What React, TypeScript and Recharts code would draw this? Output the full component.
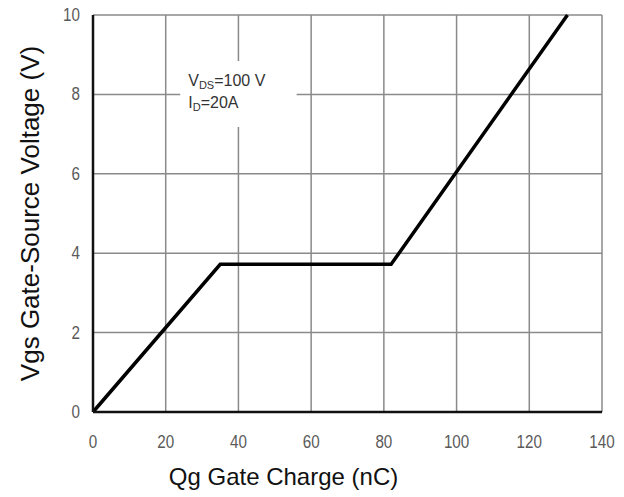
import { FC } from "react";
import {
  LineChart,
  Line,
  XAxis,
  YAxis,
  CartesianGrid,
  ReferenceArea,
} from "recharts";

// gate charge curve
const charge = [0, 35, 82, 130.5]; // nC
const vgs = [0, 3.72, 3.72, 10]; // V

const xTicks = [0, 20, 40, 60, 80, 100, 120, 140];
const yTicks = [0, 2, 4, 6, 8, 10];

// test conditions box
const noteBox = { x1: 24, x2: 56, y1: 7.18, y2: 8.84 };

const data = charge.map((q, i) => ({ q, v: vgs[i] }));

const sans = "'Liberation Sans', Arial, sans-serif";

// the datasheet uses a condensed face for tick numbers
const NarrowTick = ({ x, y, payload, textAnchor, side }: any) => {
  const dy = side === "bottom" ? 14 : 6;
  return (
    <text
      transform={`translate(${x},${y + dy}) scale(0.8,1)`}
      textAnchor={textAnchor}
      fontFamily={sans}
      fontSize={19}
      fill="#5a5a5a"
    >
      {payload.value}
    </text>
  );
};

const NoteLabel = ({ viewBox }: any) => {
  if (!viewBox) return null;
  const { x, y } = viewBox;
  return (
    <text fontFamily={sans} fontSize={16} fill="#333">
      <tspan x={x + 8} y={y + 25}>
        V<tspan fontSize={11} dy={3}>DS</tspan>
        <tspan dy={-3}>=100 V</tspan>
      </tspan>
      <tspan x={x + 8} y={y + 47}>
        I<tspan fontSize={11} dy={3}>D</tspan>
        <tspan dy={-3}>=20A</tspan>
      </tspan>
    </text>
  );
};

const App: FC = () => {
  return (
    <div style={{ position: "absolute", left: 0, top: 0, background: "#fff" }}>
      <LineChart
        width={624}
        height={497}
        data={data}
        margin={{ top: 15, right: 22, left: 0, bottom: 0 }}
      >
        <CartesianGrid stroke="#8a8a8a" strokeWidth={1.5} />
        <ReferenceArea
          x1={noteBox.x1}
          x2={noteBox.x2}
          y1={noteBox.y1}
          y2={noteBox.y2}
          fill="#fff"
          fillOpacity={1}
          stroke="none"
          ifOverflow="visible"
          label={<NoteLabel />}
        />
        <XAxis
          dataKey="q"
          type="number"
          domain={[0, 140]}
          ticks={xTicks}
          height={85}
          tickSize={0}
          tickMargin={22}
          tickLine={false}
          axisLine={{ stroke: "#111", strokeWidth: 2.5 }}
          tick={<NarrowTick side="bottom" />}
          label={{
            value: "Qg Gate Charge (nC)",
            position: "insideBottom",
            offset: 12,
            dx: -64,
            style: { fontSize: 24, fill: "#111", fontFamily: sans },
          }}
        />
        <YAxis
          type="number"
          domain={[0, 10]}
          ticks={yTicks}
          width={93}
          tickSize={0}
          tickMargin={13}
          tickLine={false}
          axisLine={{ stroke: "#111", strokeWidth: 2.5 }}
          tick={<NarrowTick side="left" />}
          label={{
            value: "Vgs Gate-Source Voltage (V)",
            angle: -90,
            position: "insideLeft",
            offset: 30,
            style: {
              fontSize: 26,
              fill: "#111",
              fontFamily: sans,
              textAnchor: "middle",
            },
          }}
        />
        <Line
          type="linear"
          dataKey="v"
          stroke="#000"
          strokeWidth={3.5}
          dot={false}
          isAnimationActive={false}
        />
      </LineChart>
    </div>
  );
};

export default App;
